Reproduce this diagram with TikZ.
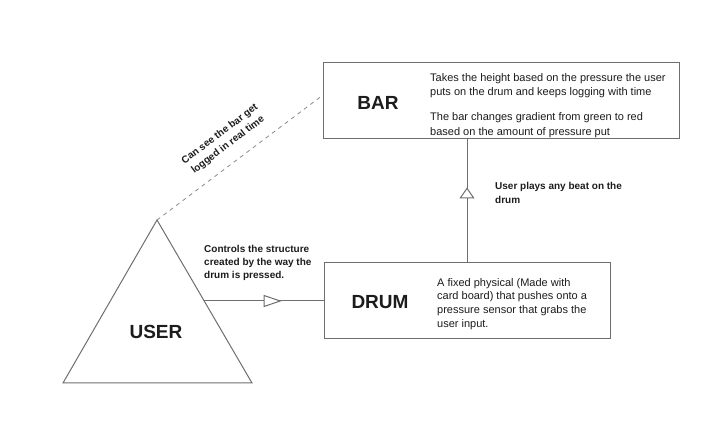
\documentclass[tikz,border=0pt]{standalone}
\usepackage{fontspec}
\setmainfont{Liberation Sans}
\usetikzlibrary{arrows.meta,decorations.markings}

\definecolor{linegray}{HTML}{6E6E6E}
\definecolor{dashgray}{HTML}{8A8A8A}
\definecolor{inkgray}{HTML}{1C1C1C}

\tikzset{
    block/.style={draw=linegray,line width=1pt,fill=white,minimum height=76pt},
    title/.style={font=\fontsize{19}{22}\selectfont\bfseries,text=inkgray,inner sep=0pt},
    desc/.style={font=\fontsize{11}{14.5}\selectfont,text=inkgray,align=left,anchor=north west,inner sep=0pt},
    note/.style={font=\fontsize{10}{13}\selectfont\bfseries,text=inkgray,align=left,anchor=north west,inner sep=0pt},
    slopenote/.style={sloped,inner sep=0pt,align=center,font=\fontsize{10}{13.5}\selectfont\bfseries,text=inkgray},
    link/.style={draw=linegray,line width=1pt},
    flowmark/.style 2 args={postaction={decorate},
        decoration={markings,mark=at position #1 with {\arrow{#2}}}}
}

\begin{document}
\begin{tikzpicture}[x=1pt,y=1pt]
    \useasboundingbox (0,0) rectangle (725,447);

    % boxes
    \node[block,minimum width=356pt] (bar) at (501,346) {};
    \node[block,minimum width=286pt] (drum) at (467,146) {};
    \node[title] (bartitle) at (378,344) {BAR};
    \node[title] (drumtitle) at (380,145) {DRUM};
    \node[desc] (bartext) at (430,374) {Takes the height based on the pressure the user\\
        puts on the drum and keeps logging with time\\[10.5pt]
        The bar changes gradient from green to red\\
        based on the amount of pressure put};
    \node[desc,font=\fontsize{11}{13.8}\selectfont] (drumtext) at (437,169) {A fixed physical (Made with\\
        card board) that pushes onto a\\
        pressure sensor that grabs the\\
        user input.};

    % user triangle
    \coordinate (apex) at (157,227);
    \coordinate (baseleft) at (63,64);
    \coordinate (baseright) at (252,64);
    \draw[link] (apex) -- (baseleft) -- (baseright) -- cycle;
    \node[title] (usertitle) at (156,115) {USER};

    % connectors
    \coordinate (useredge) at (204.2,146);
    \coordinate (barhook) at (323,352);
    \draw[link,flowmark={0.65}{Triangle[open,fill=white,length=18pt,width=12pt]}]
        (useredge) -- (drum.west);
    \draw[link,flowmark={0.61}{Triangle[open,fill=white,length=11pt,width=15pt]}]
        (drum.north) -- (drum.north |- bar.south);
    \draw[dashgray,line width=0.8pt,dash pattern=on 4pt off 4pt] (apex) -- (barhook)
        node[slopenote,pos=0.49,above=12pt] (seelabel) {Can see the bar get\\ logged in real time};

    % labels
    \node[note] (controlslabel) at (204,201.5) {Controls the structure\\
        created by the way the\\
        drum is pressed.};
    \node[note,font=\fontsize{10}{14}\selectfont\bfseries] (playslabel) at (495,265) {User plays any beat on the\\
        drum};
\end{tikzpicture}
\end{document}
